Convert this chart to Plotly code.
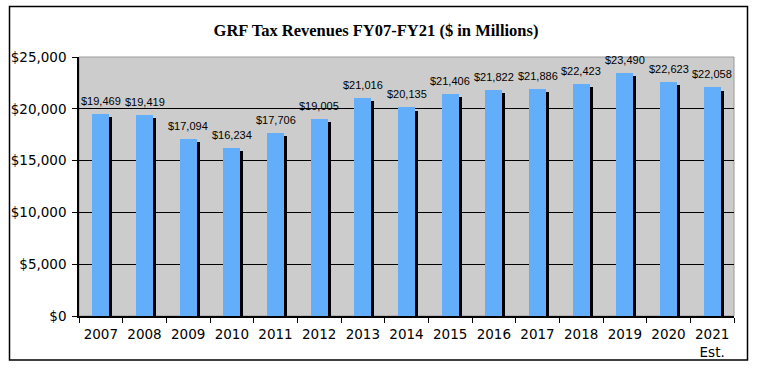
import plotly.graph_objects as go

years = ["2007", "2008", "2009", "2010", "2011", "2012", "2013", "2014",
         "2015", "2016", "2017", "2018", "2019", "2020", "2021<br>Est."]
revenues = [19469, 19419, 17094, 16234, 17706, 19005, 21016, 20135,
            21406, 21822, 21886, 22423, 23490, 22623, 22058]
y_ticks = [0, 5000, 10000, 15000, 20000, 25000]
y_tick_labels = ["$0", "$5,000", "$10,000", "$15,000", "$20,000", "$25,000"]

W, H = 770, 377
L, R, T, B = 79, 36, 57, 61
pw, ph = W - L - R, H - T - B

bar_w = 0.39
shadow_dx = 0.065
shadow_drop = 300

fig = go.Figure()
fig.add_trace(go.Bar(
    x=years, y=revenues, base=-shadow_drop,
    width=bar_w, offset=-bar_w / 2 + shadow_dx,
    marker=dict(color="black", line=dict(width=0)),
    hoverinfo="skip", showlegend=False,
))
fig.add_trace(go.Bar(
    x=years, y=revenues,
    width=bar_w, offset=-bar_w / 2,
    marker=dict(color="#62AEFA", line=dict(width=0)),
    showlegend=False,
))

for i, v in enumerate(revenues):
    fig.add_annotation(
        x=i, y=v, text=f"${v:,}", showarrow=False, yshift=13,
        font=dict(family="Liberation Sans, Arial", size=11, color="black"),
    )

def px(x):
    return (x - L) / pw

def py(y):
    return (H - B - y) / ph

fig.add_shape(type="rect", xref="paper", yref="paper",
              x0=px(9.5), x1=px(747.5), y0=py(360), y1=py(6.5),
              line=dict(color="black", width=1.5), layer="above")
fig.add_shape(type="rect", xref="paper", yref="paper",
              x0=0, x1=1, y0=0, y1=1,
              line=dict(color="#9a9a9a", width=1), layer="below")

tick_font = dict(family="DejaVu Sans, Verdana", size=13.5, color="black")

fig.update_layout(
    width=W, height=H,
    margin=dict(l=L, r=R, t=T, b=B),
    paper_bgcolor="white", plot_bgcolor="#CCCCCC",
    barmode="overlay", bargap=0,
    title=dict(text="<b>GRF Tax Revenues FY07-FY21 ($ in Millions)</b>",
               x=376 / W, xanchor="center", y=1 - 30 / H, yanchor="middle",
               font=dict(family="Liberation Serif, Times New Roman", size=16.5, color="black")),
    xaxis=dict(type="category", tickson="boundaries", ticks="outside", ticklen=5,
               tickcolor="black", showline=True, linecolor="black", linewidth=1.5,
               showgrid=False, tickfont=tick_font, ticklabelstandoff=5,
               range=[-0.5, len(years) - 0.5]),
    yaxis=dict(range=[0, 25000], tickvals=y_ticks, ticktext=y_tick_labels,
               ticks="outside", ticklen=5, tickcolor="black",
               showline=True, linecolor="black", linewidth=1.5,
               showgrid=True, gridcolor="black", gridwidth=1, zeroline=False,
               tickfont=tick_font, ticklabelstandoff=3),
)

fig.write_html("out.html", config={"displayModeBar": False},
               post_script="document.body.style.margin='0px';")
